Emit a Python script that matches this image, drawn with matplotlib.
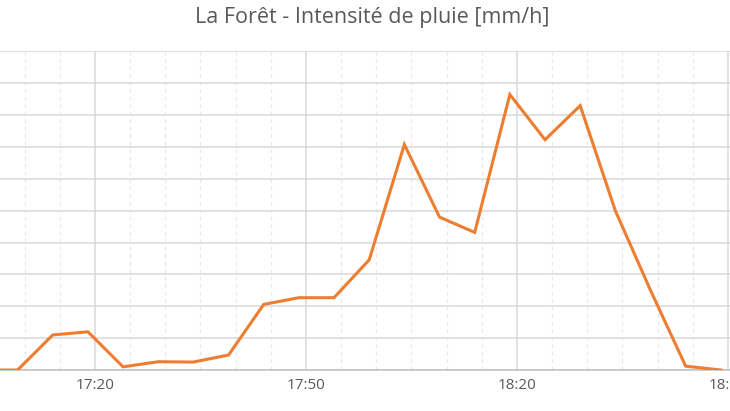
import matplotlib.pyplot as plt
import matplotlib.dates as mdates
import pandas as pd

# mesures toutes les 5 minutes
heures = ["17:04", "17:09", "17:14", "17:19", "17:24", "17:29", "17:34", "17:39",
          "17:44", "17:49", "17:54", "17:59", "18:04", "18:09", "18:14", "18:19",
          "18:24", "18:29", "18:34", "18:39", "18:44", "18:49"]
intensite = [0, 0, 1.10, 1.20, 0.10, 0.26, 0.25, 0.47,
             2.06, 2.27, 2.27, 3.46, 7.08, 4.80, 4.32, 8.65,
             7.23, 8.30, 5.00, 2.50, 0.12, 0]

ticks_majeurs = ["17:20", "17:50", "18:20", "18:50"]

t = pd.to_datetime(["2020-01-01 " + h for h in heures])
t_maj = pd.to_datetime(["2020-01-01 " + h for h in ticks_majeurs])

gris = "#595959"
fig = plt.figure(figsize=(7.3, 4.11), dpi=100)
ax = fig.add_axes([0, 1 - 370 / 411, 1, (370 - 51.5) / 411])

# grille secondaire (5 min) en pointillés
t_min = pd.date_range("2020-01-01 17:05", "2020-01-01 18:55", freq="5min")
for tm in t_min:
    if tm not in t_maj:
        ax.axvline(tm, color="#e8e8e8", lw=0.9, ls=(0, (3, 3)), zorder=0)
for tm in t_maj:
    ax.axvline(tm, color="#d9d9d9", lw=1.1, zorder=0)

ax.plot(t, intensite, color="#ED7D31", lw=2.2, solid_joinstyle="miter", zorder=3)

ax.set_ylim(0, 10)
ax.set_yticks(range(0, 11))
ax.yaxis.grid(True, color="#d9d9d9", lw=1.1, zorder=0)
ax.set_axisbelow(True)
ax.tick_params(axis="y", left=False, labelleft=False)

x0 = pd.Timestamp("2020-01-01 17:20") - pd.Timedelta(minutes=13.5)
x1 = pd.Timestamp("2020-01-01 17:20") + pd.Timedelta(minutes=90.3)
ax.set_xlim(x0, x1)
ax.set_xticks(t_maj)
ax.xaxis.set_major_formatter(mdates.DateFormatter("%H:%M"))
ax.tick_params(axis="x", length=0, pad=6, labelsize=11, labelcolor=gris)
for lab in ax.get_xticklabels():
    lab.set_fontfamily("Open Sans")

for s in ["top", "left", "right"]:
    ax.spines[s].set_visible(False)
ax.spines["bottom"].set_color("#bfbfbf")
ax.spines["bottom"].set_linewidth(1.1)

fig.text(0.51, 1 - 17 / 411, "La Forêt - Intensité de pluie [mm/h]",
         ha="center", va="center", fontsize=15.5, color=gris, family="Open Sans")

fig.savefig("out.png", dpi=100)
